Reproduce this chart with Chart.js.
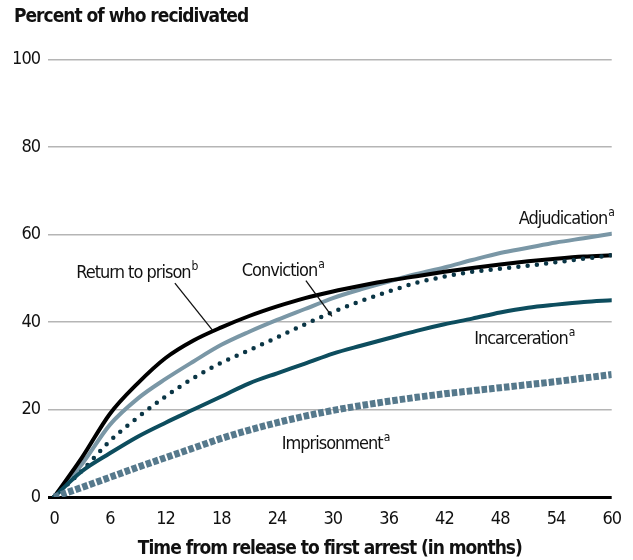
<!DOCTYPE html>
<html>
<head>
<meta charset="utf-8">
<script src="https://cdn.jsdelivr.net/npm/chart.js@4.4.1/dist/chart.umd.min.js"></script>
<style>
  html, body { margin: 0; padding: 0; background: #fff; }
  #wrap { width: 633px; height: 560px; }
</style>
</head>
<body>
<div id="wrap"><canvas id="recidChart" width="633" height="560"></canvas></div>
<script>
var FONT = "'DejaVu Sans Condensed', 'Liberation Sans Narrow', sans-serif";
var SPACING = '-1px';

var months = [0, 3, 6, 9, 12, 15, 18, 21, 24, 27, 30, 33, 36, 39, 42, 45, 48, 51, 54, 57, 60];
var xTicks = [0, 6, 12, 18, 24, 30, 36, 42, 48, 54, 60];
var yTicks = [0, 20, 40, 60, 80, 100];

var returnToPrison = [0, 9, 19, 26, 31.8, 35.8, 38.8, 41.4, 43.6, 45.5, 47, 48.3, 49.5, 50.5, 51.5, 52.4, 53.2, 53.9, 54.5, 55, 55.3];
var adjudication   = [0, 7.5, 16.5, 22.5, 27, 31, 34.8, 37.8, 40.5, 43, 45.5, 47.5, 49.3, 51, 52.5, 54.2, 55.8, 57, 58.2, 59.2, 60.2];
var conviction     = [0, 6, 12.8, 18.2, 23, 27.2, 30.7, 33.6, 36.5, 39.5, 42.3, 44.8, 47, 49, 50.4, 51.5, 52.2, 52.9, 53.7, 54.5, 55.3];
var incarceration  = [0, 5.9, 10, 13.8, 17, 20, 23, 26, 28.3, 30.5, 32.8, 34.6, 36.3, 38, 39.5, 40.8, 42.2, 43.3, 44, 44.6, 45];
var imprisonment   = [0, 2.2, 4.5, 6.8, 9, 11.2, 13.4, 15.3, 17, 18.5, 19.8, 20.9, 21.9, 22.8, 23.6, 24.3, 25, 25.7, 26.4, 27.2, 28];

function pts(arr) {
  return arr.map(function(v, i) { return { x: months[i], y: v }; });
}

// labels with superscripts, anchored in data units
var annotations = [
  { text: 'Return to prison', sup: 'b', x: 2.4, y: 50.0, from: [13.0, 48.9], to: [17.06, 38.1] },
  { text: 'Conviction', sup: 'a', x: 20.2, y: 50.5, from: [27.1, 49.5], to: [29.9, 41.3] },
  { text: 'Adjudication', sup: 'a', x: 50.0, y: 62.4 },
  { text: 'Incarceration', sup: 'a', x: 45.2, y: 34.9 },
  { text: 'Imprisonment', sup: 'a', x: 24.5, y: 11.0 }
];

// narrow the text a bit, the original uses a condensed face
var spacingPlugin = {
  id: 'tightText',
  beforeUpdate: function(chart) { chart.ctx.letterSpacing = SPACING; },
  beforeLayout: function(chart) { chart.ctx.letterSpacing = SPACING; },
  beforeDraw: function(chart) { chart.ctx.letterSpacing = SPACING; }
};

var labelPlugin = {
  id: 'lineLabels',
  afterDatasetsDraw: function(chart) {
    var c = chart.ctx;
    var xs = chart.scales.x, ys = chart.scales.y;
    c.save();
    c.letterSpacing = SPACING;
    c.fillStyle = '#111';
    c.strokeStyle = '#111';
    c.lineWidth = 1.3;
    annotations.forEach(function(a) {
      var px = xs.getPixelForValue(a.x);
      var py = ys.getPixelForValue(a.y);
      c.font = '18px ' + FONT;
      c.textAlign = 'left';
      c.textBaseline = 'alphabetic';
      c.fillText(a.text, px, py);
      var w = c.measureText(a.text).width;
      c.font = '12px ' + FONT;
      c.fillText(a.sup, px + w + 1, py - 8);
      if (a.from) {
        c.beginPath();
        c.moveTo(xs.getPixelForValue(a.from[0]), ys.getPixelForValue(a.from[1]));
        c.lineTo(xs.getPixelForValue(a.to[0]), ys.getPixelForValue(a.to[1]));
        c.stroke();
      }
    });
    c.restore();
  }
};

var ctx = document.getElementById('recidChart').getContext('2d');
var myChart = new Chart(ctx, {
  type: 'line',
  data: {
    datasets: [
      {
        label: 'Imprisonment',
        data: pts(imprisonment),
        borderColor: '#56798c',
        borderWidth: 7,
        borderDash: [5.5, 2],
        borderCapStyle: 'butt'
      },
      {
        label: 'Incarceration',
        data: pts(incarceration),
        borderColor: '#0d4d5e',
        borderWidth: 4,
        borderCapStyle: 'round'
      },
      {
        label: 'Conviction',
        data: pts(conviction),
        borderColor: '#0a3545',
        borderWidth: 4.5,
        borderDash: [0, 9.3],
        borderCapStyle: 'round'
      },
      {
        label: 'Return to prison',
        data: pts(returnToPrison),
        borderColor: '#000000',
        borderWidth: 4,
        borderCapStyle: 'round'
      },
      {
        label: 'Adjudication',
        data: pts(adjudication),
        borderColor: '#7a97a6',
        borderWidth: 4,
        borderCapStyle: 'round'
      }
    ]
  },
  options: {
    responsive: false,
    animation: false,
    cubicInterpolationMode: 'monotone',
    elements: { point: { radius: 0 } },
    layout: { padding: { left: 14, right: 20, top: 6, bottom: 0 } },
    plugins: {
      legend: { display: false },
      tooltip: { enabled: false },
      title: {
        display: true,
        text: 'Percent of who recidivated',
        align: 'start',
        color: '#111',
        font: { family: FONT, size: 19, weight: 'bold' },
        padding: { top: 0, bottom: 31 }
      }
    },
    scales: {
      x: {
        type: 'linear',
        min: -0.65,
        max: 60,
        afterBuildTicks: function(axis) {
          axis.ticks = xTicks.map(function(v) { return { value: v }; });
        },
        afterFit: function(axis) { axis.height = 63; },
        grid: { display: false, drawTicks: false },
        border: { display: false },
        ticks: {
          color: '#111',
          padding: 12,
          maxRotation: 0,
          autoSkip: false,
          font: { family: FONT, size: 18 }
        },
        title: {
          display: true,
          text: 'Time from release to first arrest (in months)',
          color: '#111',
          font: { family: FONT, size: 19, weight: 'bold' },
          padding: { top: 0, bottom: 0 }
        }
      },
      y: {
        min: 0,
        max: 100,
        afterBuildTicks: function(axis) {
          axis.ticks = yTicks.map(function(v) { return { value: v }; });
        },
        afterFit: function(axis) { axis.width = 34; },
        border: { display: false },
        grid: {
          drawTicks: false,
          color: function(c) { return c.tick && c.tick.value === 0 ? '#000' : '#b5b5b5'; },
          lineWidth: function(c) { return c.tick && c.tick.value === 0 ? 3 : 1.5; }
        },
        ticks: {
          color: '#111',
          padding: 8,
          font: { family: FONT, size: 18 }
        }
      }
    }
  },
  plugins: [spacingPlugin, labelPlugin]
});
</script>
</body>
</html>
